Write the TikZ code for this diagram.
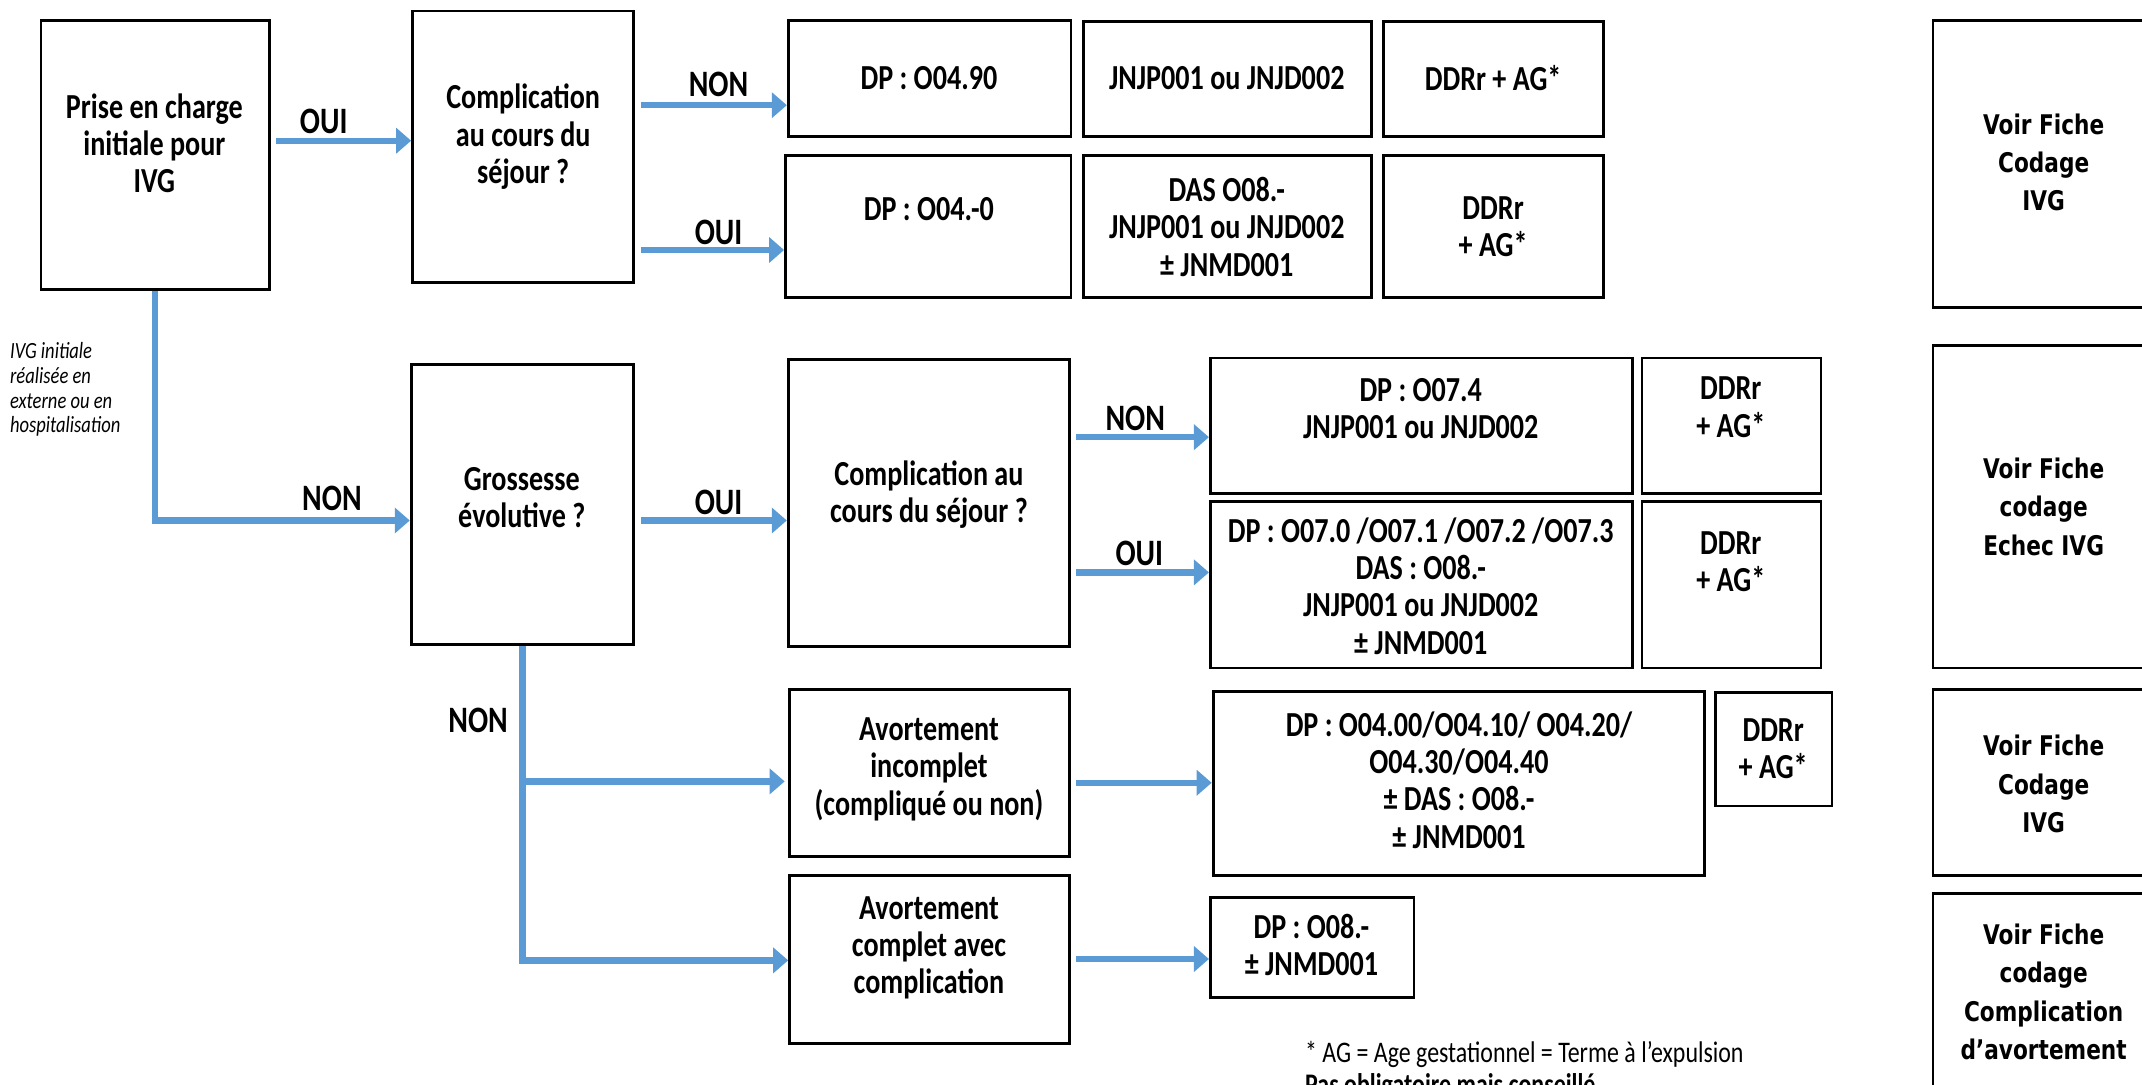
\documentclass[tikz,border=0pt]{standalone}
\usepackage{fontspec}
\setmainfont{Carlito}
\newfontfamily\verdfont{DejaVu Sans}
\usetikzlibrary{arrows.meta,fit}

\definecolor{bleufleche}{HTML}{5B9BD5}

\tikzset{
  serre/.style={xscale=0.8, transform shape},
  boite/.style={draw, line width=0.8pt, inner sep=0pt},
  txt/.style={serre, align=center, inner sep=0pt, font=\fontsize{10}{10.6}\selectfont\bfseries},
  voir/.style={serre, align=center, inner sep=0pt, font=\verdfont\fontsize{7.7}{10.9}\selectfont\bfseries},
  etiq/.style={serre, inner sep=0pt, font=\fontsize{10.6}{10}\selectfont\bfseries},
  note/.style={serre, anchor=west, inner sep=0pt},
  fleche/.style={draw=bleufleche, line width=1.8pt, shorten <=1.5pt,
    -{Triangle[length=0.15cm,width=0.25cm]}},
}

\begin{document}
\begin{tikzpicture}[x=0.01366cm,y=-0.01366cm]
  \useasboundingbox (0,0) rectangle (1568,794);
  \clip (0,0) rectangle (1568,794);

  % premiere ligne
  \node[boite, fit={(30,15) (197,212)}] (prise) {};
  \node[boite, fit={(302,8) (464,207)}] (compA) {};
  \node[boite, fit={(577,15) (784,100)}] (dpA) {};
  \node[boite, fit={(793,16) (1004,100)}] (actA) {};
  \node[boite, fit={(1013,16) (1174,100)}] (ddrA) {};
  \node[boite, fit={(575,114) (784,218)}] (dpB) {};
  \node[boite, fit={(793,114) (1004,218)}] (actB) {};
  \node[boite, fit={(1013,114) (1174,218)}] (ddrB) {};

  \node[txt] (tprise) at (113,105) {Prise en charge\\initiale pour\\IVG};
  \node[txt] (tcompA) at (383,100) {Complication\\au cours du\\séjour ?};
  \node[txt] (tdpA) at (680,57) {DP : O04.90};
  \node[txt] (tactA) at (898,57) {JNJP001 ou JNJD002};
  \node[txt] (tddrA) at (1093,57) {DDRr + AG*};
  \node[txt] (tdpB) at (680,153) {DP : O04.-0};
  \node[txt] (tactB) at (898,166) {DAS O08.-\\JNJP001 ou JNJD002\\± JNMD001};
  \node[txt] (tddrB) at (1093,166) {DDRr\\+ AG*};

  % grossesse evolutive
  \node[boite, fit={(301,267) (464,472)}] (gross) {};
  \node[boite, fit={(577,263) (783,473)}] (compB) {};
  \node[boite, fit={(886,262) (1195,361)}] (dpC) {};
  \node[boite, fit={(1202,262) (1333,361)}] (ddrC) {};
  \node[boite, fit={(886,367) (1195,489)}] (dpD) {};
  \node[boite, fit={(1202,367) (1333,489)}] (ddrD) {};

  \node[txt] (tgross) at (382,364) {Grossesse\\évolutive ?};
  \node[txt] (tcompB) at (680,362) {Complication au\\cours du séjour ?};
  \node[txt] (tdpC) at (1040,299) {DP : O07.4\\JNJP001 ou JNJD002};
  \node[txt] (tddrC) at (1267,298) {DDRr\\+ AG*};
  \node[txt] (tdpD) at (1040,429) {DP : O07.0 /O07.1 /O07.2 /O07.3\\DAS : O08.-\\JNJP001 ou JNJD002\\± JNMD001};
  \node[txt] (tddrD) at (1267,411) {DDRr\\+ AG*};

  % avortements
  \node[boite, fit={(578,505) (783,627)}] (avinc) {};
  \node[boite, fit={(578,641) (783,764)}] (avcomp) {};
  \node[boite, fit={(888,506) (1248,641)}] (dpE) {};
  \node[boite, fit={(1256,507) (1341,590)}] (ddrE) {};
  \node[boite, fit={(886,657) (1035,730)}] (dpF) {};

  \node[txt] (tavinc) at (680,563) {Avortement\\incomplet\\(compliqué ou non)};
  \node[txt] (tavcomp) at (680,694) {Avortement\\complet avec\\complication};
  \node[txt] (tdpE) at (1068,571) {DP : O04.00/O04.10/ O04.20/\\O04.30/O04.40\\± DAS : O08.-\\± JNMD001};
  \node[txt] (tddrE) at (1298,548) {DDRr\\+ AG*};
  \node[txt] (tdpF) at (960,692) {DP : O08.-\\± JNMD001};

  % fiches a droite
  \node[boite, fit={(1415,15) (1580,225)}] (ficheA) {};
  \node[boite, fit={(1415,253) (1580,489)}] (ficheB) {};
  \node[boite, fit={(1415,505) (1580,641)}] (ficheC) {};
  \node[boite, fit={(1415,654) (1580,802)}] (ficheD) {};

  \node[voir] (tficheA) at (1496,119) {Voir Fiche\\Codage\\IVG};
  \node[voir] (tficheB) at (1496,371) {Voir Fiche\\codage\\Echec IVG};
  \node[voir] (tficheC) at (1496,574) {Voir Fiche\\Codage\\IVG};
  \node[voir] (tficheD) at (1496,726) {Voir Fiche\\codage\\Complication\\d’avortement};

  % fleches
  \draw[fleche] (prise.east |- 0,103) -- (compA.west |- 0,103);
  \draw[fleche] (compA.east |- 0,77) -- (dpA.west |- 0,77);
  \draw[fleche] (compA.east |- 0,183) -- (dpB.west |- 0,183);
  \draw[fleche, shorten <=0pt] (prise.south) |- (gross.west |- 0,381);
  \draw[fleche] (gross.east |- 0,381) -- (compB.west |- 0,381);
  \draw[fleche] (compB.east |- 0,320) -- (dpC.west |- 0,320);
  \draw[fleche] (compB.east |- 0,419) -- (dpD.west |- 0,419);
  \draw[fleche, shorten <=0pt] (gross.south) |- ([xshift=-1pt]avinc.west |- 0,572);
  \draw[fleche, shorten <=0pt] (gross.south) |- (avcomp.west |- 0,703);
  \draw[fleche] (avinc.east |- 0,573) -- (dpE.west |- 0,573);
  \draw[fleche] (avcomp.east |- 0,702) -- (dpF.west |- 0,702);

  % etiquettes
  \node[etiq] (oA) at (237,89) {OUI};
  \node[etiq] (nA) at (526,62) {NON};
  \node[etiq] (oB) at (526,170) {OUI};
  \node[etiq] (nB) at (243,365) {NON};
  \node[etiq] (oC) at (526,368) {OUI};
  \node[etiq] (nC) at (831,306) {NON};
  \node[etiq] (oD) at (834,405) {OUI};
  \node[etiq] (nD) at (350,527) {NON};

  % notes
  \node[note, align=left, font=\fontsize{6.6}{7.1}\selectfont\itshape] (ivgnote) at (7,285)
    {IVG initiale\\réalisée en\\externe ou en\\hospitalisation};
  \node[note, font=\fontsize{8.5}{8}\selectfont] (agnote) at (955,772)
    {* AG = Age gestationnel = Terme à l’expulsion};
  \node[note, font=\fontsize{8.5}{8}\selectfont\bfseries] (pasnote) at (955,795)
    {Pas obligatoire mais conseillé};
\end{tikzpicture}
\end{document}
